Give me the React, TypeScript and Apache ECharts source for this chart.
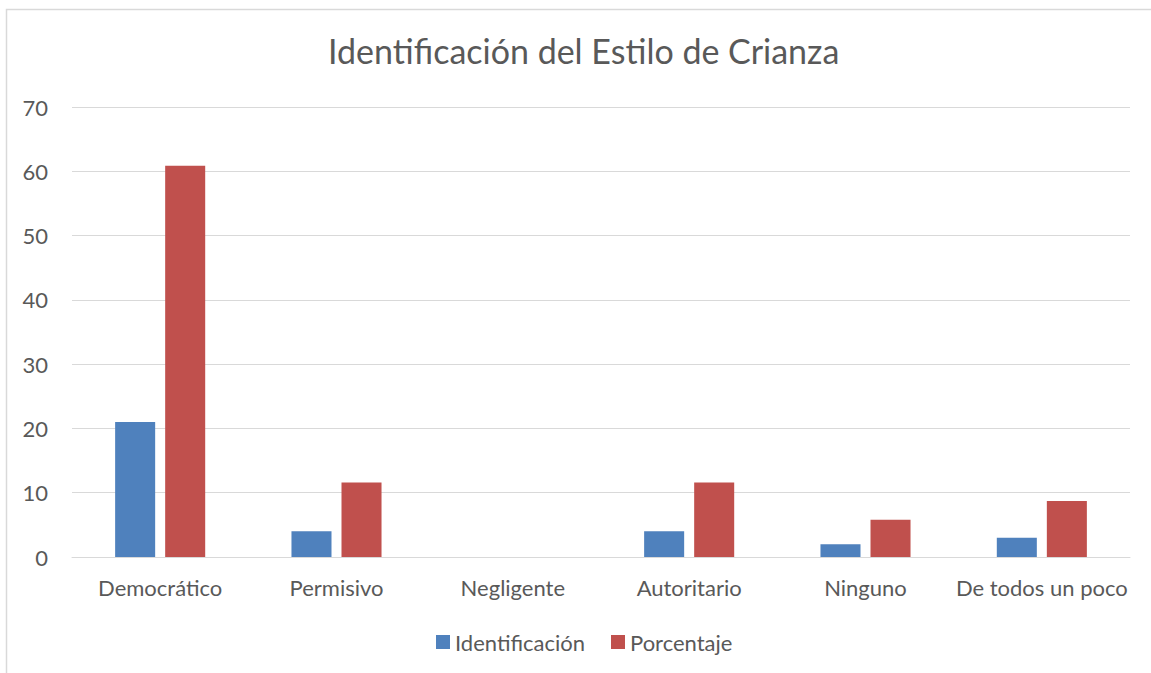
import React, { useEffect, useRef } from "react";
import * as echarts from "echarts";

const categories = ["Democrático", "Permisivo", "Negligente", "Autoritario", "Ninguno", "De todos un poco"];
const identificacion = [21, 4, 0, 4, 2, 3];
const porcentaje = [60.87, 11.59, 0, 11.59, 5.8, 8.7];
const titleText = "Identificación del Estilo de Crianza";
const seriesNames = ["Identificación", "Porcentaje"];

const FONT = "Lato, 'Open Sans', sans-serif";
const TXT = "#595959";

export default function App() {
  const ref = useRef<HTMLDivElement>(null);
  useEffect(() => {
    if (!ref.current) return;
    const chart = echarts.init(ref.current, undefined, { renderer: "svg" });
    chart.setOption({
      animation: false,
      backgroundColor: "#ffffff",
      title: {
        text: titleText,
        left: 323,
        top: 28,
        textStyle: { fontFamily: FONT, fontSize: 34, fontWeight: "normal", color: TXT },
      },
      graphic: [
        {
          type: "rect",
          shape: { x: 6.5, y: 9.5, width: 1160, height: 700 },
          style: { fill: "none", stroke: "#d9d9d9", lineWidth: 1.5 },
          silent: true,
        },
      ],
      legend: {
        bottom: 15,
        left: 431,
        itemWidth: 14,
        itemHeight: 14,
        itemGap: 26,
        icon: "rect",
        textStyle: { fontFamily: FONT, fontSize: 22, color: TXT },
        data: seriesNames,
      },
      grid: { left: 72, right: 21, top: 107, bottom: 116, containLabel: false },
      xAxis: {
        type: "category",
        data: categories,
        axisLine: { lineStyle: { color: "#d9d9d9", width: 1 } },
        axisTick: { show: false },
        axisLabel: { fontFamily: FONT, fontSize: 22, color: TXT, margin: 19, interval: 0 },
      },
      yAxis: {
        type: "value",
        min: 0,
        max: 70,
        interval: 10,
        axisLine: { show: false },
        axisTick: { show: false },
        splitLine: { lineStyle: { color: "#d9d9d9", width: 1 } },
        axisLabel: { fontFamily: FONT, fontSize: 22, color: TXT, margin: 24 },
      },
      series: [
        {
          name: seriesNames[0],
          type: "bar",
          data: identificacion,
          barWidth: "22.7%",
          barGap: "25%",
          itemStyle: { color: "#4f81bd" },
        },
        {
          name: seriesNames[1],
          type: "bar",
          data: porcentaje,
          barWidth: "22.7%",
          barGap: "25%",
          itemStyle: { color: "#c0504d" },
        },
      ],
    });
    return () => chart.dispose();
  }, []);
  return (
    <div
      ref={ref}
      style={{ position: "fixed", left: 0, top: 0, width: 1151, height: 673 }}
    />
  );
}
